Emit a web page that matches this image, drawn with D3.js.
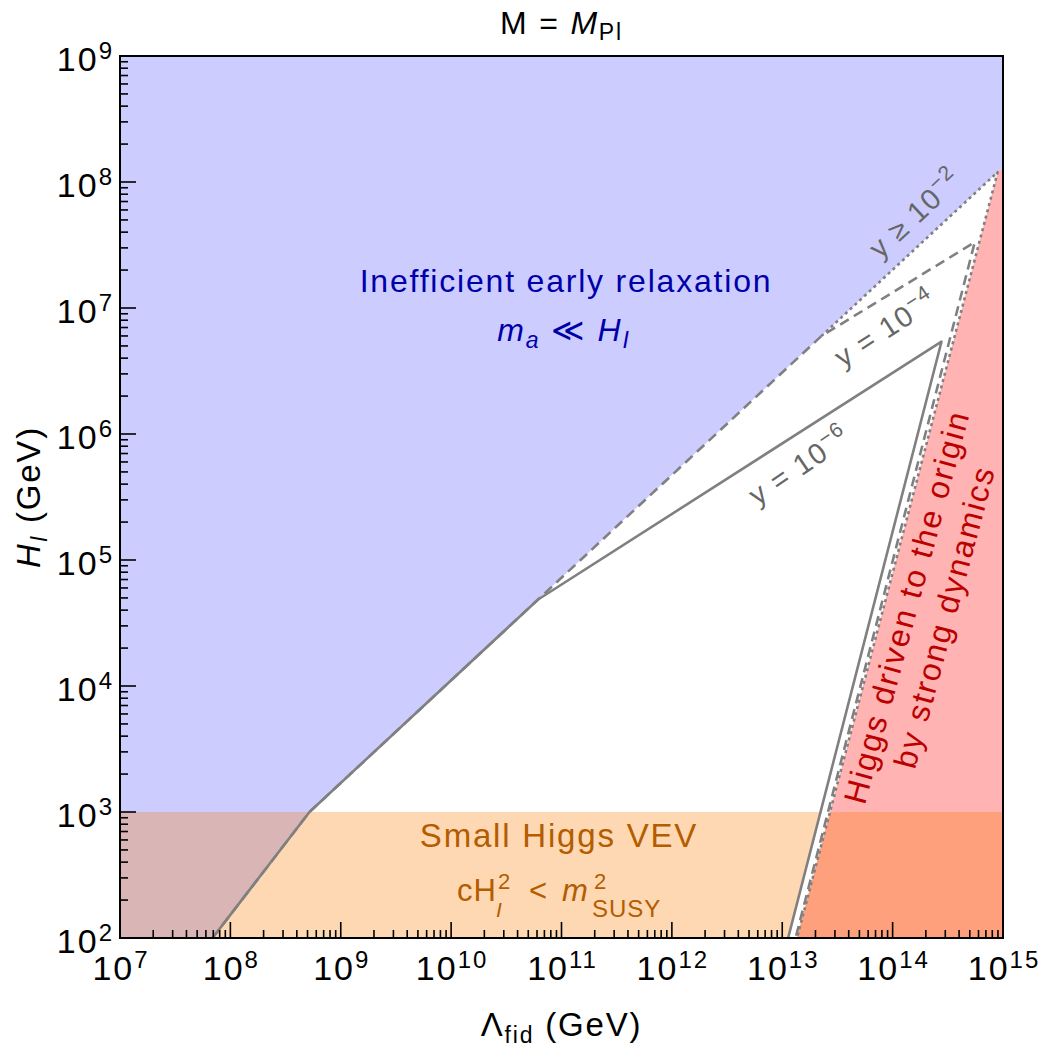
<!DOCTYPE html>
<html>
<head>
<meta charset="utf-8">
<script src="https://cdn.jsdelivr.net/npm/d3@7"></script>
<style>
  body { margin: 0; background: #fff; }
  text { font-family: "Liberation Sans", Arial, sans-serif; }
</style>
</head>
<body>
<div id="chart"></div>
<script>
// boundaries, points are [Lambda_fid (GeV), H_I (GeV)]
const lineY6 = [[6.89e7, 1e2], [5.21e8, 1e3], [6.14e10, 4.86e4], [2.77e14, 5.4e6], [1.13e13, 1e2]];
const lineY4 = [[6.89e7, 1e2], [5.21e8, 1e3], [2.26e13, 5.98e6], [5.55e14, 3.33e7], [1.32e13, 1e2]];
const lineY2 = [[2.26e13, 5.98e6], [8.95e14, 1.2e8], [1.36e13, 1e2]];
const blueRegion = [[1e7, 1e9], [1e15, 1e9], [1e15, 1.3e8], [8.95e14, 1.2e8], [5.21e8, 1e3], [6.89e7, 1e2], [1e7, 1e2]];
const redRegion = [[1.36e13, 1e2], [8.95e14, 1.2e8], [1e15, 1.3e8], [1e15, 1e2]];
const hSusy = 1e3;

const xDecades = [7, 8, 9, 10, 11, 12, 13, 14, 15];
const yDecades = [2, 3, 4, 5, 6, 7, 8, 9];

// chart size
const margin = {top: 56, right: 39, bottom: 112, left: 120};
const W = 1042, H = 1050;
const width = W - margin.left - margin.right;
const height = H - margin.top - margin.bottom;

const svg = d3.select("#chart").append("svg")
    .attr("width", W)
    .attr("height", H);

const g = svg.append("g")
    .attr("transform", "translate(" + margin.left + "," + margin.top + ")");

const x = d3.scaleLog().domain([1e7, 1e15]).range([0, width]);
const y = d3.scaleLog().domain([1e2, 1e9]).range([height, 0]);

const poly = d3.line().x(d => x(d[0])).y(d => y(d[1]));

// clip for the low H band
const defs = svg.append("defs");
defs.append("clipPath").attr("id", "band")
    .append("rect")
    .attr("x", 0).attr("y", y(hSusy))
    .attr("width", width).attr("height", height - y(hSusy));
defs.append("clipPath").attr("id", "plot")
    .append("rect")
    .attr("width", width).attr("height", height);

const area = g.append("g").attr("clip-path", "url(#plot)");

// regions
area.append("path").attr("d", poly(blueRegion) + "Z").attr("fill", "#ccccff");
area.append("path").attr("d", poly(redRegion) + "Z").attr("fill", "#ffb3b3");

const band = area.append("g").attr("clip-path", "url(#band)");
band.append("path").attr("d", poly(lineY6) + "Z").attr("fill", "#fed8b2");
band.append("path").attr("d", poly(blueRegion) + "Z").attr("fill", "#d9b5b5");
band.append("path").attr("d", poly(redRegion) + "Z").attr("fill", "#ffa07c");

// contour lines
const lineStyle = [
    {data: lineY2, dash: "3,3.5"},
    {data: lineY4, dash: "10,6"},
    {data: lineY6, dash: null}
];
lineStyle.forEach(function(s) {
    area.append("path")
        .attr("d", poly(s.data))
        .attr("fill", "none")
        .attr("stroke", "#808080")
        .attr("stroke-width", 2.6)
        .attr("stroke-linejoin", "round")
        .attr("stroke-dasharray", s.dash);
});

// ticks (inside, left and bottom only)
let xMinor = [], yMinor = [];
xDecades.slice(0, -1).forEach(e => { for (let k = 2; k < 10; k++) xMinor.push(k * Math.pow(10, e)); });
yDecades.slice(0, -1).forEach(e => { for (let k = 2; k < 10; k++) yMinor.push(k * Math.pow(10, e)); });

const ticks = g.append("g").attr("stroke", "#000").attr("stroke-width", 1.6);
ticks.selectAll(".xmaj").data(xDecades).enter().append("line")
    .attr("x1", d => x(Math.pow(10, d))).attr("x2", d => x(Math.pow(10, d)))
    .attr("y1", height).attr("y2", height - 16);
ticks.selectAll(".xmin").data(xMinor).enter().append("line")
    .attr("x1", d => x(d)).attr("x2", d => x(d))
    .attr("y1", height).attr("y2", height - 8);
ticks.selectAll(".ymaj").data(yDecades).enter().append("line")
    .attr("y1", d => y(Math.pow(10, d))).attr("y2", d => y(Math.pow(10, d)))
    .attr("x1", 0).attr("x2", 16);
ticks.selectAll(".ymin").data(yMinor).enter().append("line")
    .attr("y1", d => y(d)).attr("y2", d => y(d))
    .attr("x1", 0).attr("x2", 8);

// frame
g.append("rect")
    .attr("width", width).attr("height", height)
    .attr("fill", "none").attr("stroke", "#000").attr("stroke-width", 2);

// tick labels
function powLabel(sel, e) {
    sel.append("tspan").text("10");
    sel.append("tspan").attr("dy", -12).attr("font-size", 24).text(e);
}
xDecades.forEach(function(e) {
    const t = g.append("text")
        .attr("x", x(Math.pow(10, e)) + 1)
        .attr("y", height + 42)
        .attr("text-anchor", "middle")
        .attr("font-size", 34).attr("letter-spacing", 2);
    powLabel(t, e);
});
yDecades.forEach(function(e) {
    const t = g.append("text")
        .attr("x", -6)
        .attr("y", y(Math.pow(10, e)) + 15)
        .attr("text-anchor", "end")
        .attr("font-size", 34).attr("letter-spacing", 2);
    powLabel(t, e);
});

// title
const title = svg.append("text")
    .attr("x", margin.left + width / 2).attr("y", 34)
    .attr("text-anchor", "middle").attr("font-size", 32).attr("letter-spacing", 1.8);
title.append("tspan").text("M = ");
title.append("tspan").attr("font-style", "italic").text("M");
title.append("tspan").attr("font-size", 23).attr("dy", 6).text("Pl");

// axis labels
const xl = svg.append("text")
    .attr("x", margin.left + width / 2).attr("y", 1036)
    .attr("text-anchor", "middle").attr("font-size", 33).attr("letter-spacing", 1.8);
xl.append("tspan").text("Λ");
xl.append("tspan").attr("font-size", 23).attr("dy", 7).text("fid");
xl.append("tspan").attr("dy", -7).text(" (GeV)");

const yl = svg.append("text")
    .attr("transform", "translate(40," + (margin.top + height / 2) + ") rotate(-90)")
    .attr("text-anchor", "middle").attr("font-size", 33).attr("letter-spacing", 1.8);
yl.append("tspan").attr("font-style", "italic").text("H");
yl.append("tspan").attr("font-style", "italic").attr("font-size", 23).attr("dy", 7).text("I");
yl.append("tspan").attr("dy", -7).text(" (GeV)");

// region labels
const blueTxt = "#0000aa";
svg.append("text")
    .attr("x", 566).attr("y", 292)
    .attr("text-anchor", "middle").attr("font-size", 32).attr("letter-spacing", 1.8)
    .attr("fill", blueTxt)
    .text("Inefficient early relaxation");
const ma = svg.append("text")
    .attr("x", 564).attr("y", 341)
    .attr("text-anchor", "middle").attr("font-size", 32).attr("letter-spacing", 1.8)
    .attr("fill", blueTxt).attr("font-style", "italic");
ma.append("tspan").text("m");
ma.append("tspan").attr("font-size", 23).attr("dy", 7).text("a");
ma.append("tspan").attr("dy", -7).attr("font-style", "normal").text(" ≪ ");
ma.append("tspan").text("H");
ma.append("tspan").attr("font-size", 23).attr("dy", 7).text("I");

const orange = "#b35c00";
svg.append("text")
    .attr("x", 559).attr("y", 847)
    .attr("text-anchor", "middle").attr("font-size", 33).attr("letter-spacing", 1.8)
    .attr("fill", orange)
    .text("Small Higgs VEV");
// cH_I^2 < m_SUSY^2 : written as pieces so sub/superscripts stack
const ch = svg.append("g").attr("fill", orange).attr("font-size", 31).attr("letter-spacing", 1);
ch.append("text").attr("x", 457).attr("y", 901).text("cH");
ch.append("text").attr("x", 498).attr("y", 889).attr("font-size", 22).text("2");
ch.append("text").attr("x", 496).attr("y", 917).attr("font-size", 21).attr("font-style", "italic").text("I");
ch.append("text").attr("x", 529).attr("y", 901).text("<");
ch.append("text").attr("x", 562).attr("y", 901).attr("font-style", "italic").text("m");
ch.append("text").attr("x", 594).attr("y", 889).attr("font-size", 22).text("2");
ch.append("text").attr("x", 592).attr("y", 917).attr("font-size", 24).text("SUSY");

const red = svg.append("g")
    .attr("transform", "translate(926,612) rotate(-75)")
    .attr("fill", "#bb0000").attr("font-size", 32).attr("letter-spacing", 2)
    .attr("text-anchor", "middle");
red.append("text").attr("y", -9).text("Higgs driven to the origin");
red.append("text").attr("y", 30).text("by strong dynamics");

// contour labels
const yLabels = [
    {txt: "y ≥ 10", sup: "−2", cx: 922, cy: 221, rot: -43},
    {txt: "y = 10", sup: "−4", cx: 891, cy: 337, rot: -33},
    {txt: "y = 10", sup: "−6", cx: 805, cy: 474, rot: -34}
];
yLabels.forEach(function(l) {
    const t = svg.append("text")
        .attr("transform", "translate(" + l.cx + "," + l.cy + ") rotate(" + l.rot + ")")
        .attr("text-anchor", "middle").attr("font-size", 29).attr("letter-spacing", 1.4)
        .attr("fill", "#666");
    t.append("tspan").text(l.txt);
    t.append("tspan").attr("font-size", 21).attr("dy", -12).text(l.sup);
});
</script>
</body>
</html>
